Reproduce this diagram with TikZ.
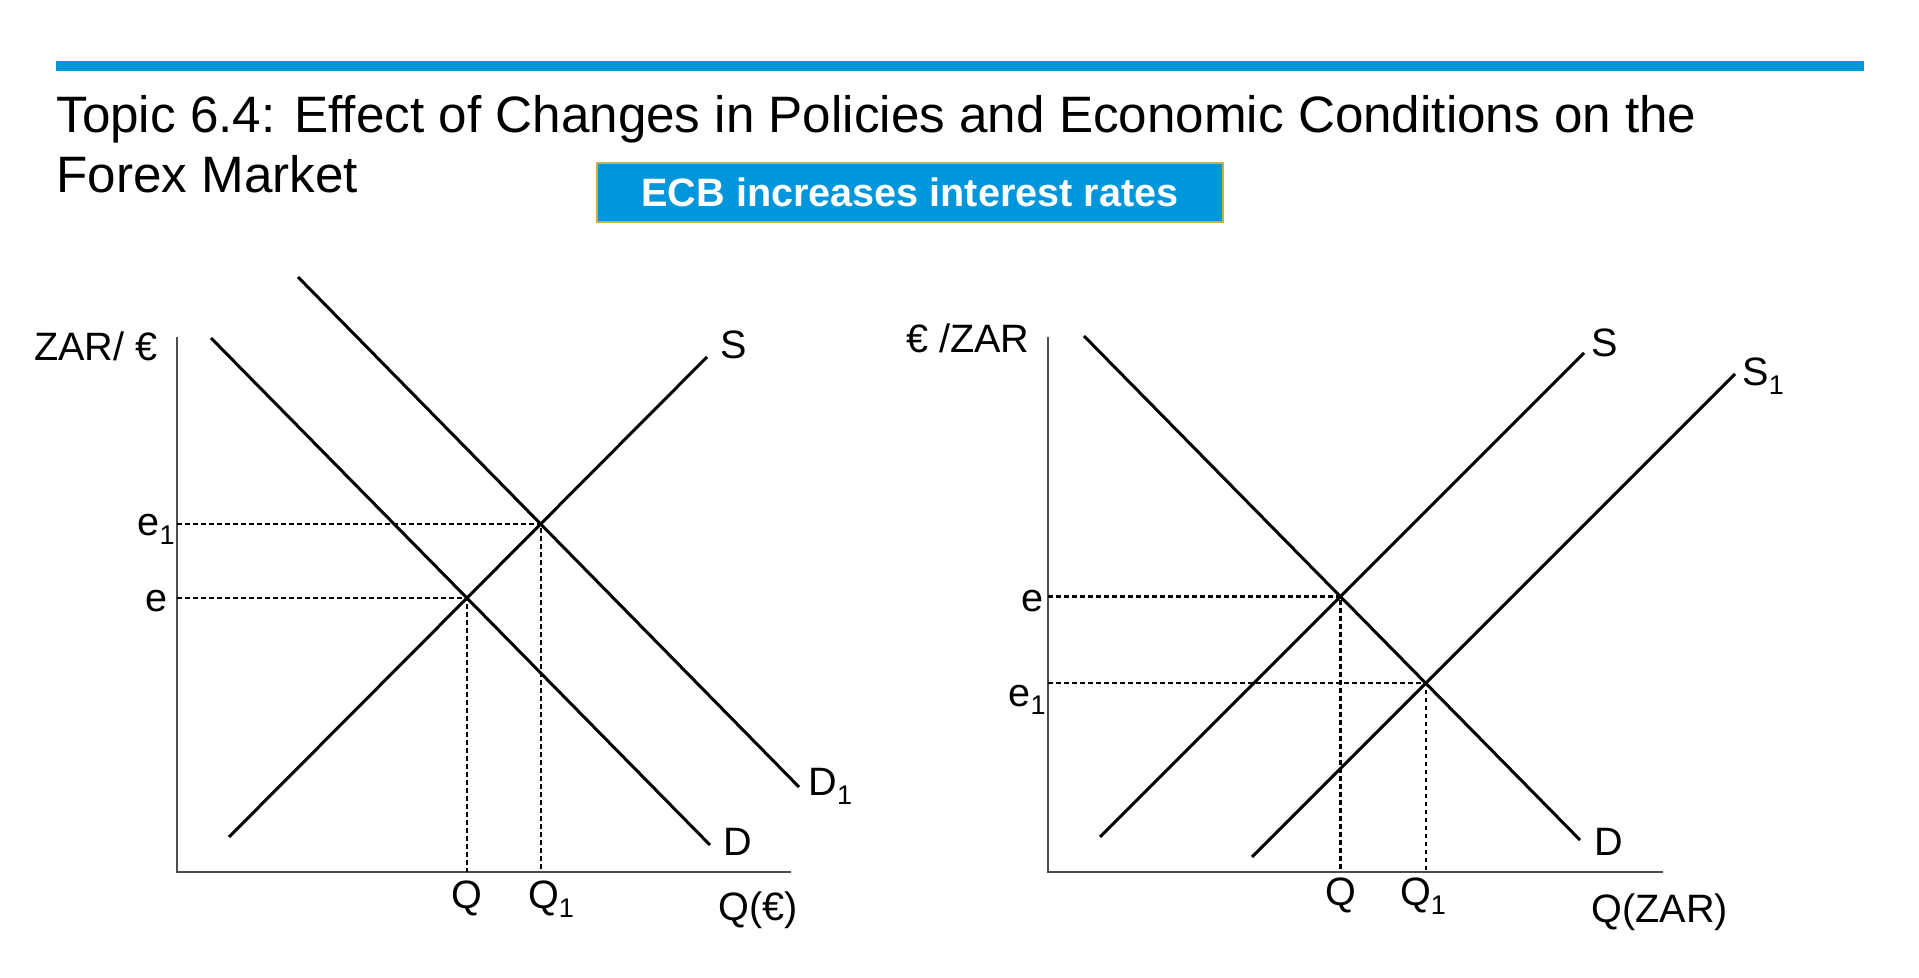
\documentclass[tikz,border=0pt]{standalone}
\usepackage{fontspec}
\setmainfont{Liberation Sans}
\usetikzlibrary{calc}
\definecolor{ecbblue}{RGB}{0,150,219}
\definecolor{boxedge}{RGB}{196,178,72}
% lowered subscript one, as on the slide
\newcommand{\subone}{\raisebox{-4.5pt}{\fontsize{13.5}{14}\selectfont 1}}

\begin{document}
\begin{tikzpicture}[x=0.5pt, y=-0.5pt,
  curve/.style={line width=1.5pt, black},
  axis/.style={line width=1.2pt, black!70},
  guide/.style={line width=1.2pt, dash pattern=on 2.4pt off 1.6pt},
  lbl/.style={font=\fontsize{19.8}{23}\selectfont, inner sep=0pt},
]
  % Canvas (pixel units, y pointing down)
  \fill[white] (0,0) rectangle (1919,978);
  \useasboundingbox (0,0) rectangle (1919,978);

  % Header bar and title
  \fill[ecbblue] (56,61) rectangle (1864,71);
  \node[anchor=base west, inner sep=0pt, font=\fontsize{25.6}{30}\selectfont] (title1) at (56,133)
    {Topic 6.4: Effect of Changes in Policies and Economic Conditions on the};
  \node[anchor=base west, inner sep=0pt, font=\fontsize{25.6}{30}\selectfont] (title2) at (56,193)
    {Forex Market};

  % Event box
  \node[fill=ecbblue, draw=boxedge, line width=0.6pt, minimum width=313pt, minimum height=29.5pt,
    inner sep=0pt, text=white, font=\bfseries\fontsize{19.8}{23}\selectfont] (event) at (910,192.5)
    {ECB increases interest rates};

  % ---------- Left panel: market for euros ----------
  \coordinate (lO) at (177,872);
  \coordinate (lYtop) at (177,337);
  \coordinate (lXend) at (791,872);
  \draw[axis] (lYtop) -- (lO) -- (lXend);

  % Demand, shifted demand and supply
  \coordinate (lDa) at (211,338);  \coordinate (lDb) at (710,845);
  \coordinate (lD1a) at (298,277); \coordinate (lD1b) at (799,787);
  \coordinate (lSa) at (229,837);  \coordinate (lSb) at (707,357);
  \draw[curve] (lDa) -- (lDb);
  \draw[curve] (lD1a) -- (lD1b);
  \draw[curve] (lSa) -- (lSb);

  % Equilibria
  \coordinate (lE) at (intersection of lDa--lDb and lSa--lSb);
  \coordinate (lE1) at (intersection of lD1a--lD1b and lSa--lSb);
  \draw[guide] (lE -| lO) -- (lE) -- (lE |- lO);
  \draw[guide] (lE1 -| lO) -- (lE1) -- (lE1 |- lO);

  % Labels
  \node[lbl, anchor=base east] (lYlab) at (158,361) {ZAR/ €};
  \node[lbl, anchor=base west] (lXlab) at (718,920) {Q(€)};
  \node[lbl, anchor=base west] (lSlab) at (720,359) {S};
  \node[lbl, anchor=base west] (lDlab) at (723,856) {D};
  \node[lbl, anchor=base west] (lD1lab) at (808,796) {D\subone};
  \node[lbl, anchor=base east] (lElab) at (168,612) {e};
  \node[lbl, anchor=base east] (lE1lab) at (175,536) {e\subone};
  \node[lbl, anchor=base] (lQlab) at (lE |- 0,908) {Q};
  \node[lbl, anchor=base west] (lQ1lab) at ($(lE1 |- 0,908)+(-13,0)$) {Q\subone};

  % ---------- Right panel: market for rand ----------
  \coordinate (rO) at (1048,872);
  \coordinate (rYtop) at (1048,337);
  \coordinate (rXend) at (1663,872);
  \draw[axis] (rYtop) -- (rO) -- (rXend);

  % Demand, supply and shifted supply
  \coordinate (rDa) at (1084,336);  \coordinate (rDb) at (1580,840);
  \coordinate (rSa) at (1100,837);  \coordinate (rSb) at (1584,353);
  \coordinate (rS1a) at (1252,857); \coordinate (rS1b) at (1735,374);
  \draw[curve] (rDa) -- (rDb);
  \draw[curve] (rSa) -- (rSb);
  \draw[curve] (rS1a) -- (rS1b);

  % Equilibria
  \coordinate (rE) at (intersection of rDa--rDb and rSa--rSb);
  \coordinate (rE1) at (intersection of rDa--rDb and rS1a--rS1b);
  \draw[guide] (rE -| rO) -- (rE) -- (rE |- rO);
  \draw[guide] (rE1 -| rO) -- (rE1) -- (rE1 |- rO);

  % Labels
  \node[lbl, anchor=base east] (rYlab) at (1030,353) {€ /ZAR};
  \node[lbl, anchor=base west] (rXlab) at (1591,922) {Q(ZAR)};
  \node[lbl, anchor=base west] (rSlab) at (1591,357) {S};
  \node[lbl, anchor=base west] (rS1lab) at (1742,386) {S\subone};
  \node[lbl, anchor=base west] (rDlab) at (1594,856) {D};
  \node[lbl, anchor=base east] (rElab) at (1044,612) {e};
  \node[lbl, anchor=base east] (rE1lab) at (1046,706) {e\subone};
  \node[lbl, anchor=base] (rQlab) at (rE |- 0,905) {Q};
  \node[lbl, anchor=base west] (rQ1lab) at ($(rE1 |- 0,905)+(-26,0)$) {Q\subone};
\end{tikzpicture}
\end{document}
